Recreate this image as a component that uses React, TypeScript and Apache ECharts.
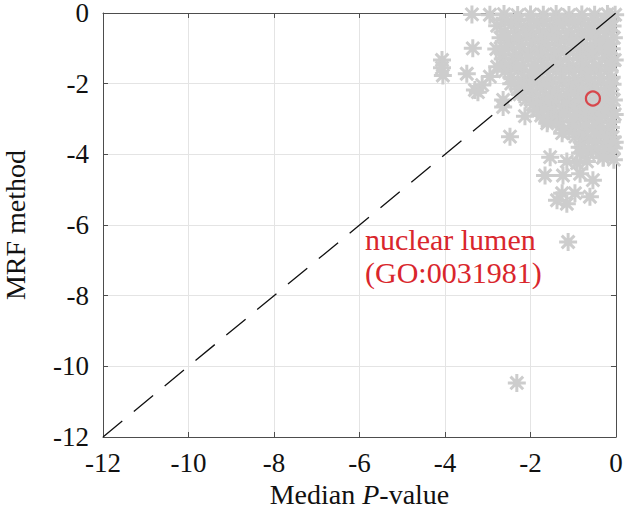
import React, { useEffect, useRef } from "react";
import * as echarts from "echarts";

// Dense cloud of GO terms (Median P-value, MRF method), log10 scale
const denseX = [
  -3.37, -2.95, -2.62, -2.3, -2.0, -1.7, -1.4, -1.1, -0.8, -0.5, -0.2, -0.02,
  -2.6, -2.3, -2.0, -1.7, -1.4, -1.1, -0.8, -0.5, -0.2,
  -2.78, -2.45, -2.15, -1.85, -1.55, -1.25, -0.95, -0.65, -0.35, -0.08,
  -2.6, -2.3, -2.0, -1.7, -1.4, -1.1, -0.8, -0.5, -0.2,
  -2.7, -2.4, -2.1, -1.8, -1.5, -1.2, -0.9, -0.6, -0.3, -0.05,
  -2.55, -2.25, -1.95, -1.65, -1.35, -1.05, -0.75, -0.45, -0.2,
  -2.8, -2.5, -2.2, -1.9, -1.6, -1.3, -1.0, -0.7, -0.4, -0.1,
  -2.65, -2.35, -2.05, -1.75, -1.45, -1.15, -0.85, -0.55, -0.25,
  -2.65, -2.35, -2.05, -1.75, -1.45, -1.15, -0.85, -0.55, -0.25, -0.03,
  -2.5, -2.2, -1.9, -1.6, -1.3, -1.0, -0.7, -0.4, -0.1,
  -2.6, -2.3, -2.0, -1.7, -1.4, -1.1, -0.8, -0.5, -0.2,
  -2.45, -2.15, -1.85, -1.55, -1.25, -0.95, -0.65, -0.35, -0.1,
  -2.45, -2.15, -1.85, -1.55, -1.25, -0.95, -0.65, -0.35, -0.08,
  -2.3, -2.0, -1.7, -1.4, -1.1, -0.8, -0.5, -0.2,
  -2.25, -1.95, -1.65, -1.35, -1.05, -0.75, -0.45, -0.15,
  -2.1, -1.8, -1.5, -1.2, -0.9, -0.6, -0.3, -0.05,
  -1.95, -1.7, -1.4, -1.1, -0.8, -0.5, -0.2,
  -1.85, -1.55, -1.25, -0.95, -0.65, -0.35, -0.1,
  -1.75, -1.45, -1.15, -0.85, -0.55, -0.25, -0.03,
  -1.6, -1.3, -1.0, -0.7, -0.4, -0.1,
  -1.3, -1.0, -0.7, -0.4, -0.12,
  -1.1, -0.8, -0.5, -0.2,
  -0.95, -0.65, -0.35, -0.08,
  -0.8, -0.5, -0.2, -0.03,
  -0.85, -0.55, -0.25, -0.05,
  -0.65, -0.4, -0.15,
  -0.3, -0.05,
];
const denseY = [
  -0.04, -0.05, -0.03, -0.06, -0.04, -0.05, -0.03, -0.06, -0.04, -0.05, -0.03, -0.05,
  -0.2, -0.22, -0.19, -0.21, -0.2, -0.23, -0.2, -0.19, -0.21,
  -0.36, -0.33, -0.38, -0.34, -0.37, -0.35, -0.32, -0.36, -0.34, -0.37,
  -0.52, -0.55, -0.5, -0.53, -0.51, -0.54, -0.52, -0.5, -0.53,
  -0.7, -0.72, -0.68, -0.71, -0.69, -0.73, -0.7, -0.67, -0.72, -0.7,
  -0.85, -0.87, -0.84, -0.86, -0.85, -0.83, -0.86, -0.85, -0.87,
  -1.02, -0.98, -1.01, -1.04, -0.99, -1.02, -1.0, -1.03, -0.97, -1.01,
  -1.15, -1.17, -1.14, -1.16, -1.15, -1.18, -1.15, -1.13, -1.16,
  -1.3, -1.33, -1.28, -1.31, -1.34, -1.29, -1.32, -1.3, -1.27, -1.33,
  -1.48, -1.5, -1.47, -1.49, -1.48, -1.51, -1.47, -1.49, -1.48,
  -1.65, -1.62, -1.68, -1.64, -1.66, -1.63, -1.67, -1.65, -1.62,
  -1.82, -1.84, -1.81, -1.83, -1.82, -1.85, -1.81, -1.83, -1.82,
  -2.0, -2.03, -1.98, -2.02, -1.99, -2.04, -2.0, -1.97, -2.02,
  -2.15, -2.17, -2.14, -2.16, -2.15, -2.18, -2.14, -2.16,
  -2.3, -2.28, -2.33, -2.31, -2.29, -2.32, -2.3, -2.27,
  -2.45, -2.47, -2.44, -2.46, -2.45, -2.48, -2.44, -2.46,
  -2.6, -2.63, -2.58, -2.61, -2.64, -2.59, -2.62,
  -2.75, -2.77, -2.74, -2.76, -2.75, -2.78, -2.75,
  -2.9, -2.93, -2.88, -2.91, -2.94, -2.9, -2.87,
  -3.05, -3.07, -3.04, -3.06, -3.05, -3.08,
  -3.2, -3.23, -3.18, -3.21, -3.24,
  -3.35, -3.37, -3.34, -3.36,
  -3.5, -3.53, -3.48, -3.51,
  -3.65, -3.67, -3.64, -3.66,
  -3.8, -3.83, -3.78, -3.82,
  -3.95, -3.97, -3.94,
  -4.1, -4.15,
];
const strayX = [
  -4.07, -4.07, -4.05, -3.35, -3.49, -3.3, -3.13, -2.95, -2.78, -2.64, -2.64,
  -3.23, -2.13, -2.48, -1.61, -1.26, -1.54, -1.15, -0.68, -1.66, -1.24, -0.84,
  -0.54, -1.26, -0.96, -0.61, -1.38, -1.15, -0.91, -0.3, -0.84, -1.12, -2.32,
];
const strayY = [
  -1.33, -1.55, -1.77, -1.0, -1.72, -2.18, -2.04, -1.8, -1.52, -2.46, -2.66,
  -2.24, -2.92, -3.5, -3.12, -3.4, -4.08, -4.2, -4.2, -4.6, -4.6, -4.55,
  -4.73, -5.1, -5.1, -5.2, -5.3, -5.4, -4.25, -4.08, -3.96, -6.48, -10.47,
];
const diagonalX = [-12, 0];
const diagonalY = [-12, 0];
const highlightX = -0.54;
const highlightY = -2.42;
const highlightLabel = ["nuclear lumen", "(GO:0031981)"];
const axisMin = -12;
const axisMax = 0;
const tickStep = 2;

const FONT = '"Liberation Serif", "Times New Roman", serif';
const ASTERISK =
  "path://M10,0L10,20M0,10L20,10M2.93,2.93L17.07,17.07M2.93,17.07L17.07,2.93";

export default function App() {
  const ref = useRef<HTMLDivElement>(null);
  useEffect(() => {
    if (!ref.current) return;
    const chart = echarts.init(ref.current, undefined, { renderer: "svg" });
    const axisLineColor = "#4d4d4d";
    const gray = "#cdcdcd";
    const baseAxis = {
      type: "value" as const,
      min: axisMin,
      max: axisMax,
      interval: tickStep,
    };
    const pts = [
      ...denseX.map((x, i) => [x, denseY[i]]),
      ...strayX.map((x, i) => [x, strayY[i]]),
    ];
    chart.setOption({
      animation: false,
      grid: {
        left: 103,
        right: 12,
        top: 13,
        bottom: 70,
        containLabel: false,
        outerBoundsMode: "none",
      },
      xAxis: [
        {
          ...baseAxis,
          position: "bottom",
          axisLine: { show: true, onZero: false, lineStyle: { color: axisLineColor, width: 1 } },
          axisTick: { show: true, inside: true, length: 5, lineStyle: { color: axisLineColor } },
          axisLabel: { fontFamily: FONT, fontSize: 27, color: "#111", margin: 12 },
          splitLine: { show: true, lineStyle: { color: "#e4e4e4", width: 1 } },
          name: "{a|Median }{b|P}{a|-value}",
          nameLocation: "middle",
          nameGap: 36,
          nameTextStyle: {
            rich: {
              a: { fontFamily: FONT, fontSize: 28, color: "#111", lineHeight: 28 },
              b: { fontFamily: FONT, fontSize: 28, color: "#111", fontStyle: "italic", lineHeight: 28 },
            },
          },
        },
        {
          ...baseAxis,
          position: "top",
          axisLine: { show: true, onZero: false, lineStyle: { color: axisLineColor, width: 1 } },
          axisTick: { show: true, inside: true, length: 5, lineStyle: { color: axisLineColor } },
          axisLabel: { show: false },
          splitLine: { show: false },
        },
      ],
      yAxis: [
        {
          ...baseAxis,
          position: "left",
          axisLine: { show: true, onZero: false, lineStyle: { color: axisLineColor, width: 1 } },
          axisTick: { show: true, inside: true, length: 5, lineStyle: { color: axisLineColor } },
          axisLabel: { fontFamily: FONT, fontSize: 27, color: "#111", margin: 14 },
          splitLine: { show: true, lineStyle: { color: "#e4e4e4", width: 1 } },
          name: "MRF method",
          nameLocation: "middle",
          nameGap: 73,
          nameTextStyle: { fontFamily: FONT, fontSize: 28, color: "#111", lineHeight: 30 },
        },
        {
          ...baseAxis,
          position: "right",
          axisLine: { show: true, onZero: false, lineStyle: { color: axisLineColor, width: 1 } },
          axisTick: { show: true, inside: true, length: 5, lineStyle: { color: axisLineColor } },
          axisLabel: { show: false },
          splitLine: { show: false },
        },
      ],
      series: [
        {
          type: "scatter",
          data: pts,
          clip: false,
          symbol: ASTERISK,
          symbolSize: 18,
          z: 2,
          itemStyle: { color: gray, borderColor: gray, borderWidth: 3, opacity: 1 },
          silent: true,
        },
        {
          type: "line",
          data: diagonalX.map((x, i) => [x, diagonalY[i]]),
          symbol: "none",
          z: 3,
          lineStyle: { color: "#111", width: 1.3, type: [25, 15] },
          silent: true,
        },
        {
          type: "scatter",
          data: [[highlightX, highlightY]],
          clip: false,
          symbol: "circle",
          symbolSize: 14,
          z: 4,
          itemStyle: { color: "rgba(0,0,0,0)", borderColor: "#d9262c", borderWidth: 2.2 },
          silent: true,
        },
      ],
      graphic: [
        {
          type: "text",
          left: 365,
          top: 223,
          z: 10,
          style: {
            text: highlightLabel.join("\n"),
            fill: "#d9262c",
            font: `30px ${FONT}`,
            lineHeight: 33,
          },
        },
      ],
    });
    return () => chart.dispose();
  }, []);
  return (
    <div
      ref={ref}
      style={{ position: "absolute", left: 0, top: 0, width: 628, height: 507 }}
    />
  );
}
